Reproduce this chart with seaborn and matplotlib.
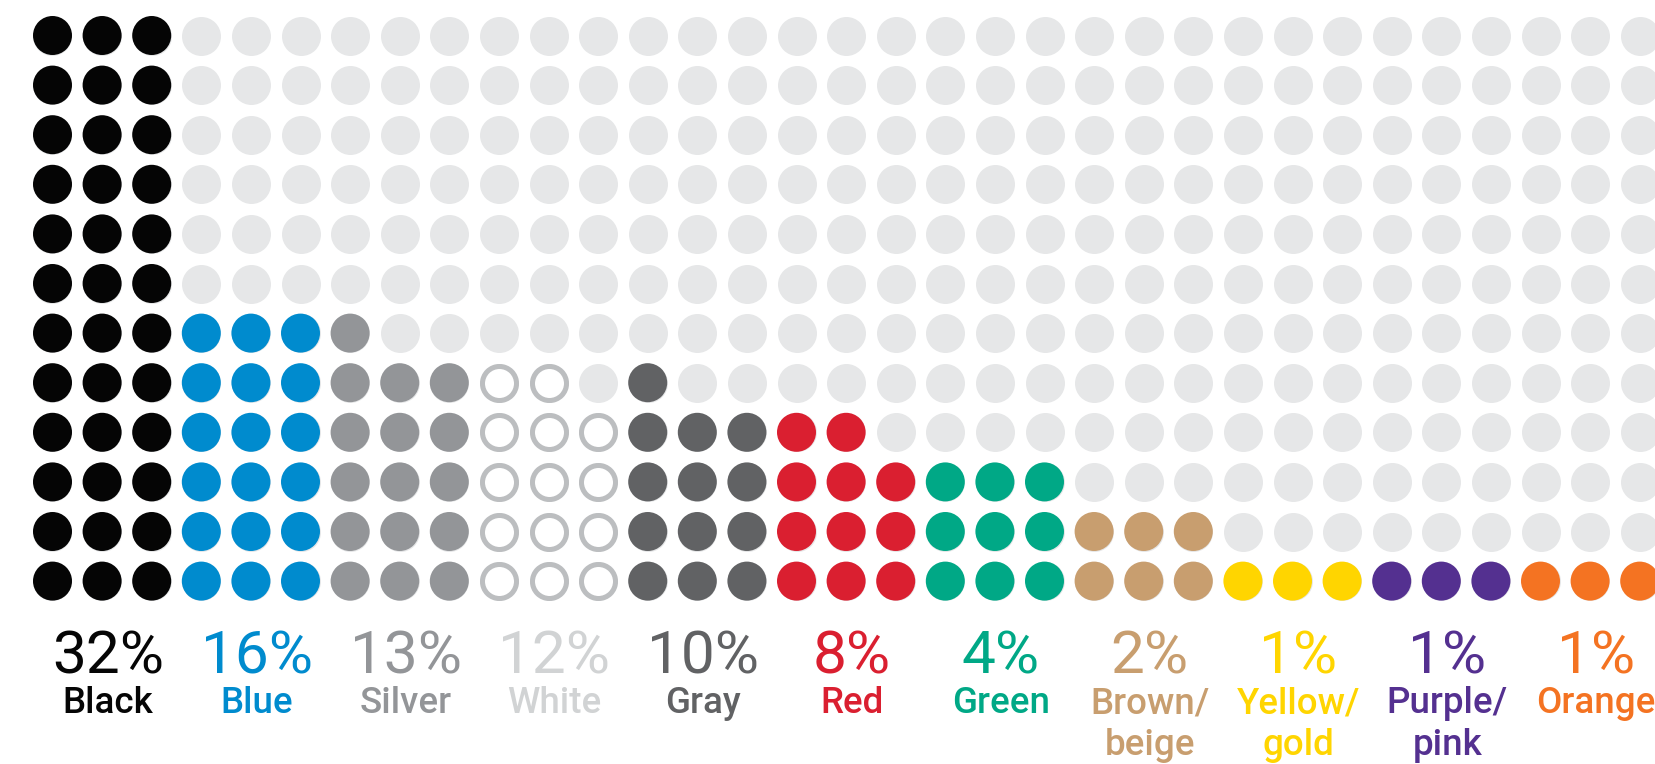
import matplotlib
matplotlib.use('agg')
import matplotlib.pyplot as plt
import seaborn as sns
import pandas as pd

# share of cars by colour, 3 columns of dots per colour
names = ["Black", "Blue", "Silver", "White", "Gray", "Red", "Green",
         "Brown/\nbeige", "Yellow/\ngold", "Purple/\npink", "Orange"]
pcts = [32, 16, 13, 12, 10, 8, 4, 2, 1, 1, 1]
col_heights = [[12, 12, 12], [6, 6, 6], [6, 5, 5], [5, 5, 4], [5, 4, 4],
               [4, 4, 3], [3, 3, 3], [2, 2, 2], [1, 1, 1], [1, 1, 1], [1, 1, 1]]
colors = ["#050505", "#008BCE", "#939598", "#FFFFFF", "#616264", "#DA1F30",
          "#00A886", "#C89E6F", "#FFD500", "#543090", "#F47322"]
label_colors = colors[:3] + ["#D1D3D4"] + colors[4:]

n_rows = 12
n_cols = 3 * len(names)

# dot table
bg = pd.DataFrame([(c, r) for c in range(n_cols) for r in range(n_rows)],
                  columns=["col", "row"])
rows = []
for g, heights in enumerate(col_heights):
    for k, h in enumerate(heights):
        for r in range(n_rows - h, n_rows):
            rows.append((3 * g + k, r, names[g]))
dots = pd.DataFrame(rows, columns=["col", "row", "group"])
filled = dots[dots.group != "White"]
white = dots[dots.group == "White"]

sns.set_style('white')
plt.rcParams['font.family'] = ['Roboto', 'DejaVu Sans']

W, H, dpi = 1656, 764, 100
fig = plt.figure(figsize=(W / dpi, H / dpi), dpi=dpi)
ax = fig.add_axes([0, 0, 1, 1])

step = 49.6
x0, y0 = 52.5, 35.5
ax.set_xlim(-x0 / step, (W - x0) / step)
ax.set_ylim((H - y0) / step, -y0 / step)
ax.axis('off')

dot_s = (39 * 72 / dpi) ** 2
sns.scatterplot(data=bg, x="col", y="row", ax=ax, s=dot_s, color="#E6E7E8",
                linewidth=0, legend=False)
sns.scatterplot(data=filled, x="col", y="row", hue="group", ax=ax, s=dot_s,
                palette=dict(zip(names, colors)), linewidth=0, legend=False)
ring_lw = 5 * 72 / dpi
sns.scatterplot(data=white, x="col", y="row", ax=ax,
                s=((39 - 5) * 72 / dpi) ** 2, color="white",
                edgecolor="#BCBEC0", linewidth=ring_lw, legend=False)

pct_base = (673 - y0) / step
name_base = (713 - y0) / step
line_gap = 42 / step
for g, (name, p) in enumerate(zip(names, pcts)):
    xc = 3 * g + 1 + 0.12
    ax.text(xc, pct_base, f"{p}%", ha='center', va='baseline', fontsize=43.5,
            color=label_colors[g])
    for i, line in enumerate(name.split("\n")):
        ax.text(xc, name_base + i * line_gap, line, ha='center', va='baseline',
                fontsize=26.5, fontweight='medium', color=label_colors[g])

fig.savefig("out.png", dpi=dpi)
plt.close(fig)
